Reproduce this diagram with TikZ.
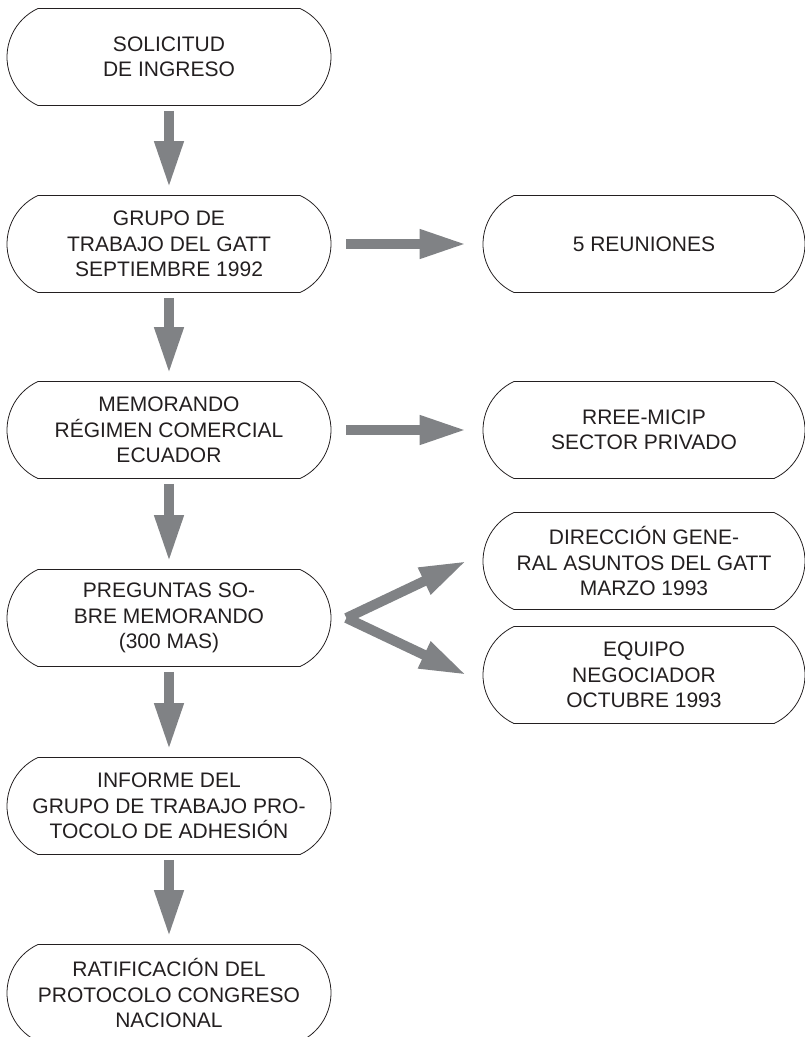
\documentclass[tikz,border=0pt]{standalone}
\usepackage{fontspec}
\setmainfont{Liberation Sans}
\usetikzlibrary{shapes.misc, arrows.meta}
\definecolor{arrowgray}{HTML}{808285}
\definecolor{ink}{HTML}{231F20}
\begin{document}
\begin{tikzpicture}[
        x=1pt, y=-1pt,
        box/.style={rounded rectangle, rounded rectangle arc length=130, draw=ink, line width=0.8pt,
            minimum width=324pt, minimum height=97pt, inner sep=0pt, align=center, text=ink,
            font=\fontsize{21}{25.5}\selectfont},
        arrow/.style={-{Triangle[width=27pt, length=47pt]}, arrowgray, line width=10pt}
    ]
    \useasboundingbox (0,0) rectangle (805,1037);
    % Nodes
    \node[box] (solicitud) at (169, 57) {SOLICITUD\\DE INGRESO};
    \node[box] (grupo) at (169, 244) {GRUPO DE\\TRABAJO DEL GATT\\SEPTIEMBRE 1992};
    \node[box] (memo) at (169, 430) {MEMORANDO\\RÉGIMEN COMERCIAL\\ECUADOR};
    \node[box] (preguntas) at (169, 618) {PREGUNTAS SO-\\BRE MEMORANDO\\(300 MAS)};
    \node[box] (informe) at (169, 806) {INFORME DEL\\GRUPO DE TRABAJO PRO-\\TOCOLO DE ADHESIÓN};
    \node[box] (ratif) at (169, 993) {RATIFICACIÓN DEL\\PROTOCOLO CONGRESO\\NACIONAL};
    \node[box, minimum width=322pt] (reuniones) at (644, 244) {5 REUNIONES};
    \node[box, minimum width=322pt] (rree) at (644, 430) {RREE-MICIP\\SECTOR PRIVADO};
    \node[box, minimum width=322pt] (direccion) at (644, 561) {DIRECCIÓN GENE-\\RAL ASUNTOS DEL GATT\\MARZO 1993};
    \node[box, minimum width=322pt] (equipo) at (644, 675) {EQUIPO\\NEGOCIADOR\\OCTUBRE 1993};
    \coordinate (fork) at ([xshift=15pt]preguntas.east);
    % Edges
    \draw[arrow] ([yshift=-5pt]solicitud.south) -- ([yshift=7pt]grupo.north);
    \draw[arrow] ([yshift=-5pt]grupo.south) -- ([yshift=7pt]memo.north);
    \draw[arrow] ([yshift=-5pt]memo.south) -- ([yshift=7pt]preguntas.north);
    \draw[arrow] ([yshift=-5pt]preguntas.south) -- ([yshift=7pt]informe.north);
    \draw[arrow] ([yshift=-5pt]informe.south) -- ([yshift=7pt]ratif.north);
    \draw[arrow] ([xshift=15pt]grupo.east) -- ([xshift=-16pt]reuniones.west);
    \draw[arrow] ([xshift=15pt]memo.east) -- ([xshift=-16pt]rree.west);
    \draw[arrow] (fork) -- ([xshift=-16pt]direccion.west);
    \draw[arrow] (fork) -- ([xshift=-16pt]equipo.west);
\end{tikzpicture}
\end{document}
